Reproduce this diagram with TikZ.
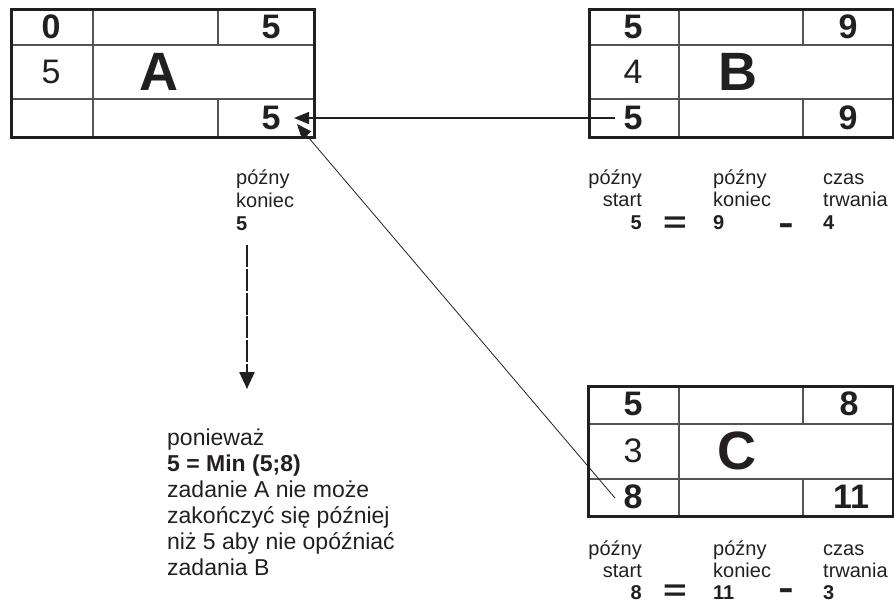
\documentclass[tikz,border=0pt]{standalone}
\usepackage{fontspec}
\setmainfont{Liberation Sans}
\usetikzlibrary{arrows.meta}
\definecolor{ink}{RGB}{35,31,32}
\definecolor{rule}{RGB}{85,83,83}
% operator signs, widened a little
\newcommand\widesign[1]{\scalebox{1.35}[1]{#1}}
\begin{document}
\begin{tikzpicture}[x=1pt,y=-1pt,
  frame/.style={draw=ink, line width=3pt, inner sep=0pt, anchor=north west},
  divider/.style={draw=rule, line width=1.4pt},
  num/.style={font=\fontsize{34}{34}\selectfont\bfseries, text=ink, inner sep=0pt},
  numreg/.style={font=\fontsize{34}{34}\selectfont, text=ink, inner sep=0pt},
  task/.style={font=\fontsize{54}{54}\selectfont\bfseries, text=ink, inner sep=0pt},
  note/.style={font=\fontsize{20}{22}\selectfont, text=ink, inner sep=0pt},
  notebf/.style={note, font=\fontsize{20}{22}\selectfont\bfseries},
  para/.style={font=\fontsize{23}{26}\selectfont, text=ink, inner sep=0pt, anchor=base west},
  parabf/.style={para, font=\fontsize{23}{26}\selectfont\bfseries},
  eqsign/.style={font=\fontsize{30}{30}\selectfont\bfseries, text=ink, inner sep=0pt, anchor=base},
  minus/.style={font=\fontsize{34}{34}\selectfont\bfseries, text=ink, inner sep=0pt, anchor=base},
  link/.style={draw=ink, -{Triangle[length=15pt,width=12pt]}},
  dasharrow/.style={draw=ink, line width=2.4pt, dash pattern=on 22pt off 1.8pt,
    -{Triangle[length=17pt,width=15pt]}}]
\useasboundingbox (0,0) rectangle (894,607);

% ---- task A ----
\draw[divider] (93,8) -- (93,136);
\draw[divider] (218,8) -- (218,45);
\draw[divider] (218,99) -- (218,136);
\draw[divider] (10,45) -- (313,45);
\draw[divider] (10,99) -- (313,99);
\node[frame, minimum width=303pt, minimum height=128pt] (boxA) at (10,8) {};
\node[num] (aES) at (51,27) {0};
\node[num] (aEF) at (271,27) {5};
\node[numreg] (aD) at (51,72) {5};
\node[task] (aName) at (159,72) {A};
\node[num] (aLF) at (271,118) {5};

% ---- task B ----
\draw[divider] (679,8) -- (679,136);
\draw[divider] (803,8) -- (803,45);
\draw[divider] (803,99) -- (803,136);
\draw[divider] (588,45) -- (892,45);
\draw[divider] (588,99) -- (892,99);
\node[frame, minimum width=304pt, minimum height=128pt] (boxB) at (588,8) {};
\node[num] (bES) at (633,27) {5};
\node[num] (bEF) at (848,27) {9};
\node[numreg] (bD) at (633,72) {4};
\node[task] (bName) at (738,72) {B};
\node[num] (bLS) at (633,118) {5};
\node[num] (bLF) at (848,118) {9};

% ---- task C ----
\draw[divider] (679,385) -- (679,515);
\draw[divider] (803,385) -- (803,424);
\draw[divider] (803,479) -- (803,515);
\draw[divider] (587,424) -- (892,424);
\draw[divider] (587,479) -- (892,479);
\node[frame, minimum width=305pt, minimum height=130pt] (boxC) at (587,385) {};
\node[num] (cES) at (633,404) {5};
\node[num] (cEF) at (849,404) {8};
\node[numreg] (cD) at (633,451) {3};
\node[task] (cName) at (737,451) {C};
\node[num] (cLS) at (633,497) {8};
\node[num] (cLF) at (851,497) {11};

% ---- connectors ----
\coordinate (bOut) at (615,118);
\coordinate (aIn) at (294,118);
\coordinate (cOut) at (615,498);
\coordinate (aIn2) at (297,124);
\draw[link, line width=1.3pt] (bOut) -- (aIn);
\draw[link, line width=0.8pt] (cOut) -- (aIn2);

% ---- late finish of A ----
\node[note, anchor=base west] (aT1) at (236,184) {późny};
\node[note, anchor=base west] (aT2) at (236,207) {koniec};
\node[notebf, anchor=base west] (aT3) at (236,230) {5};
\coordinate (dashTop) at (247,245);
\coordinate (dashEnd) at (247,389);
\draw[dasharrow] (dashTop) -- (dashEnd);

% ---- explanation ----
\node[para] (p1) at (167,445) {ponieważ};
\node[parabf] (p2) at (167,471) {5 = Min (5;8)};
\node[para] (p3) at (167,497) {zadanie A nie może};
\node[para] (p4) at (167,523) {zakończyć się później};
\node[para] (p5) at (167,549) {niż 5 aby nie opóźniać};
\node[para] (p6) at (167,575) {zadania B};

% ---- late start of B ----
\node[note, anchor=base east] (bS1) at (642,184) {późny};
\node[note, anchor=base east] (bS2) at (642,206) {start};
\node[notebf, anchor=base east] (bS3) at (642,229) {5};
\node[eqsign] (bEq) at (675,232) {\widesign{=}};
\node[note, anchor=base west] (bF1) at (713,184) {późny};
\node[note, anchor=base west] (bF2) at (713,206) {koniec};
\node[notebf, anchor=base west] (bF3) at (713,229) {9};
\node[minus] (bMin) at (786,234) {\widesign{-}};
\node[note, anchor=base west] (bT1) at (823,184) {czas};
\node[note, anchor=base west] (bT2) at (823,206) {trwania};
\node[notebf, anchor=base west] (bT3) at (823,229) {4};

% ---- late start of C ----
\node[note, anchor=base east] (cS1) at (642,555) {późny};
\node[note, anchor=base east] (cS2) at (642,577) {start};
\node[notebf, anchor=base east] (cS3) at (642,599) {8};
\node[eqsign] (cEq) at (675,600) {\widesign{=}};
\node[note, anchor=base west] (cF1) at (713,555) {późny};
\node[note, anchor=base west] (cF2) at (713,577) {koniec};
\node[notebf, anchor=base west] (cF3) at (713,599) {11};
\node[minus] (cMin) at (786,599) {\widesign{-}};
\node[note, anchor=base west] (cT1) at (823,555) {czas};
\node[note, anchor=base west] (cT2) at (823,577) {trwania};
\node[notebf, anchor=base west] (cT3) at (823,599) {3};
\end{tikzpicture}
\end{document}
